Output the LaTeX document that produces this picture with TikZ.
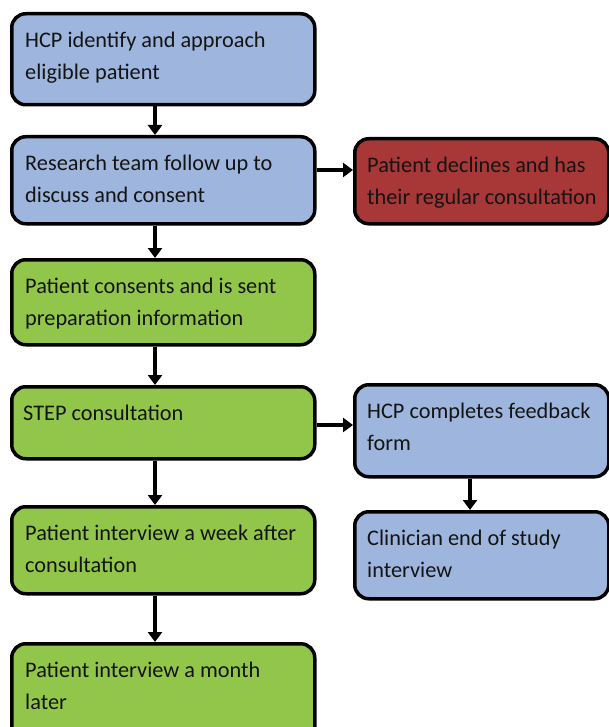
\documentclass[tikz,border=0pt]{standalone}
\usepackage{fontspec}
\setmainfont{Carlito}
\usetikzlibrary{arrows.meta}
\definecolor{bluefill}{RGB}{158,182,222}
\definecolor{greenfill}{RGB}{146,198,74}
\definecolor{redfill}{RGB}{168,56,56}
\definecolor{txt}{RGB}{20,20,20}
\begin{document}
\begin{tikzpicture}[x=1pt,y=-1pt,
  box/.style={draw=black, line width=3.5pt, rounded corners=14pt, anchor=north west, inner sep=0pt, minimum width=303pt},
  rbox/.style={box, minimum width=254pt},
  lbl/.style={anchor=north west, inner sep=0pt, text=txt, align=left,
    font=\fontsize{22.3}{32}\selectfont},
  arr/.style={line width=4.5pt, -{Triangle[length=10pt,width=14pt]}}
]
\useasboundingbox (0,0) rectangle (609,727);
\begin{scope}
\clip (0,0) rectangle (609,727);
\node[box, fill=bluefill, minimum height=91pt] (b1) at (10,12) {};
\node[box, fill=bluefill, minimum height=87pt] (b2) at (10,135) {};
\node[box, fill=greenfill, minimum height=85pt] (b3) at (10,258) {};
\node[box, fill=greenfill, minimum height=72pt] (b4) at (10,385) {};
\node[box, fill=greenfill, minimum height=87pt] (b5) at (10,505) {};
\node[box, fill=greenfill, minimum height=100pt] (b6) at (10,642) {};
\node[rbox, fill=redfill, minimum height=85pt] (r1) at (353,137) {};
\node[rbox, fill=bluefill, minimum height=92pt] (r2) at (353,383) {};
\node[rbox, fill=bluefill, minimum height=87pt] (r3) at (353,510) {};

\node[lbl] (t1) at ([shift={(15,20)}]b1.north west) {HCP identify and approach\\eligible patient};
\node[lbl] (t2) at ([shift={(15,20)}]b2.north west) {Research team follow up to\\discuss and consent};
\node[lbl] (t3) at ([shift={(15,20)}]b3.north west) {Patient consents and is sent\\preparation information};
\node[lbl] (t4) at ([shift={(13,20)}]b4.north west) {STEP consultation};
\node[lbl] (t5) at ([shift={(15,20)}]b5.north west) {Patient interview a week after\\consultation};
\node[lbl] (t6) at ([shift={(15,20)}]b6.north west) {Patient interview a month\\later};
\node[lbl] (s1) at ([shift={(14,20)}]r1.north west) {Patient declines and has\\their regular consultation};
\node[lbl] (s2) at ([shift={(14,20)}]r2.north west) {HCP completes feedback\\form};
\node[lbl] (s3) at ([shift={(14,20)}]r3.north west) {Clinician end of study\\interview};

\draw[arr] (b1.south -| 155,0) -- (b2.north -| 155,0);
\draw[arr] (b2.south -| 155,0) -- (b3.north -| 155,0);
\draw[arr] (b3.south -| 155,0) -- (b4.north -| 155,0);
\draw[arr] (b4.south -| 155,0) -- (b5.north -| 155,0);
\draw[arr] (b5.south -| 155,0) -- (b6.north -| 155,0);
\draw[arr] (b2.east |- 0,170) -- (r1.west |- 0,170);
\draw[arr] (b4.east |- 0,425) -- (r2.west |- 0,425);
\draw[arr] (r2.south -| 470,0) -- (r3.north -| 470,0);
\end{scope}
\end{tikzpicture}
\end{document}
